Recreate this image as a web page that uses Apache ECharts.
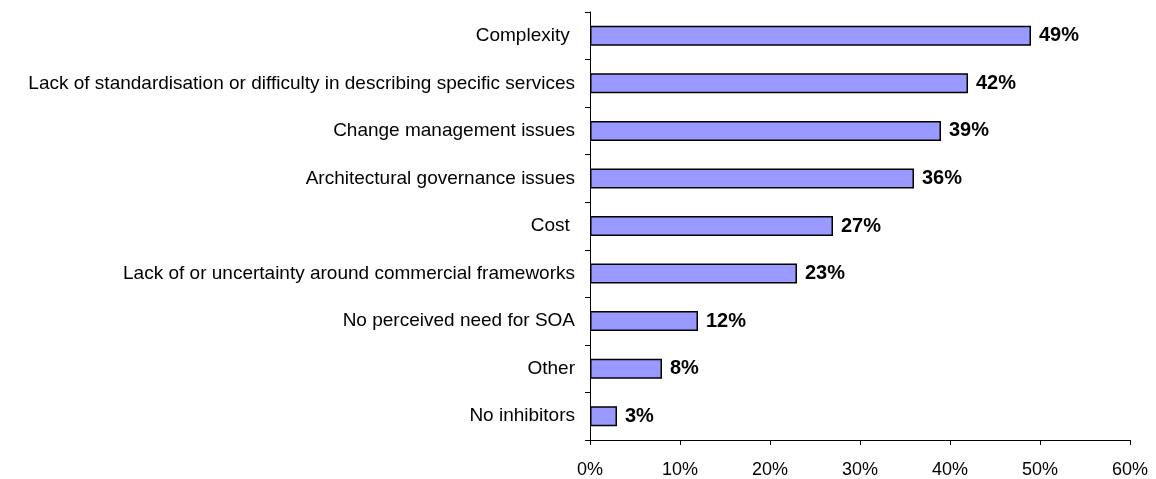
<!DOCTYPE html>
<html>
<head>
<meta charset="utf-8">
<script src="https://cdn.jsdelivr.net/npm/echarts@6/dist/echarts.min.js"></script>
<style>
  html, body { margin: 0; padding: 0; background: #ffffff; }
  #chart { width: 1156px; height: 479px; }
</style>
</head>
<body>
<div id="chart"></div>
<script>
// Inhibitors to SOA adoption, share of respondents (%)
const categories = [
  'Complexity ',
  'Lack of standardisation or difficulty in describing specific services',
  'Change management issues',
  'Architectural governance issues',
  'Cost ',
  'Lack of or uncertainty around commercial frameworks',
  'No perceived need for SOA',
  'Other',
  'No inhibitors'
];
const shares = [49, 42, 39, 36, 27, 23, 12, 8, 3];
const axisMin = 0;
const axisMax = 60;
const axisStep = 10;

const chart = echarts.init(document.getElementById('chart'), null, { renderer: 'canvas' });
const font = 'Arial, "Liberation Sans", sans-serif';

chart.setOption({
  animation: false,
  backgroundColor: '#ffffff',
  grid: { left: 590, right: 26, top: 12, bottom: 38, containLabel: false },
  xAxis: {
    type: 'value',
    min: axisMin,
    max: axisMax,
    interval: axisStep,
    axisLine: { show: true, lineStyle: { color: '#000000', width: 1 } },
    axisTick: { show: true, length: 5, lineStyle: { color: '#000000' } },
    splitLine: { show: false },
    axisLabel: {
      formatter: '{value}%',
      color: '#000000',
      fontFamily: font,
      fontSize: 18,
      margin: 21
    }
  },
  yAxis: {
    type: 'category',
    inverse: true,
    data: categories,
    axisLine: { show: true, lineStyle: { color: '#000000', width: 1 } },
    axisTick: { show: true, length: 5, lineStyle: { color: '#000000' } },
    axisLabel: {
      color: '#000000',
      fontFamily: font,
      fontSize: 19,
      margin: 15
    }
  },
  series: [{
    type: 'bar',
    data: shares,
    barWidth: 20,
    itemStyle: { color: '#9999ff', borderColor: '#000000', borderWidth: 1.5 },
    label: {
      show: true,
      position: 'right',
      distance: 8,
      formatter: '{c}%',
      color: '#000000',
      fontFamily: font,
      fontWeight: 'bold',
      fontSize: 20
    }
  }]
});
</script>
</body>
</html>
